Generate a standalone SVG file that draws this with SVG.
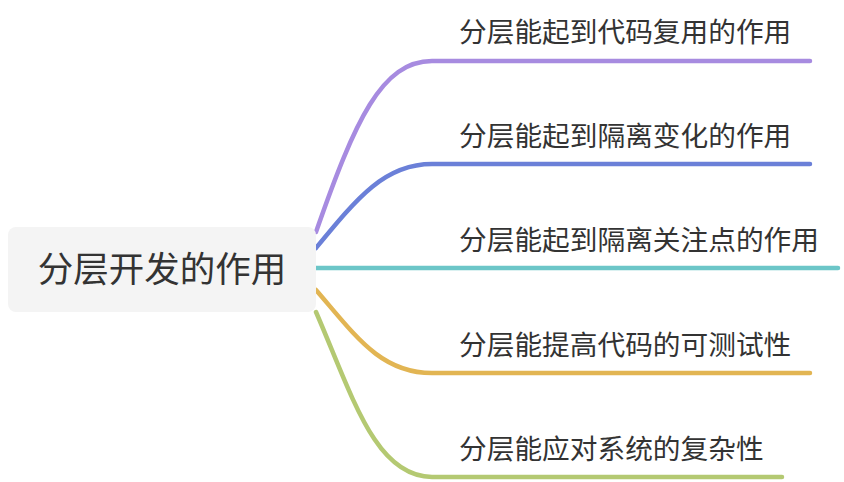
<svg xmlns="http://www.w3.org/2000/svg" width="844" height="482" viewBox="0 0 844 482">
<style>
.lbl{font-family:"Noto Sans CJK SC","Noto Sans",sans-serif;font-size:27.7px;fill:#333333}
.root{font-family:"Noto Sans CJK SC","Noto Sans",sans-serif;font-size:35.5px;fill:#333333}
.c{fill:none;stroke-width:4.5;stroke-linecap:round;stroke-linejoin:round}
</style>
<rect width="844" height="482" fill="#ffffff"/>
<g id="connectors">
<path class="c" stroke="#a78be0" d="M316,232 C355,120 382,61 432,61 L810,61"/>
<path class="c" stroke="#6b80d8" d="M316,248 C358,197 385,164 432,164 L810,164"/>
<path class="c" stroke="#6cc6c8" d="M316,268 L838,268"/>
<path class="c" stroke="#e2b553" d="M316,290 C355,335 380,373 432,373 L810,373"/>
<path class="c" stroke="#b4c972" d="M316,312 C352,395 375,477 432,477 L782,477"/>
</g>
<g id="root">
<rect x="8" y="227" width="308" height="85" rx="8" fill="#f4f4f4"/>
<text class="root" x="162" y="282" text-anchor="middle">分层开发的作用</text>
</g>
<g id="n1"><text class="lbl" x="459" y="42">分层能起到代码复用的作用</text></g>
<g id="n2"><text class="lbl" x="459" y="146">分层能起到隔离变化的作用</text></g>
<g id="n3"><text class="lbl" x="459" y="250">分层能起到隔离关注点的作用</text></g>
<g id="n4"><text class="lbl" x="459" y="355">分层能提高代码的可测试性</text></g>
<g id="n5"><text class="lbl" x="459" y="459">分层能应对系统的复杂性</text></g>
</svg>
